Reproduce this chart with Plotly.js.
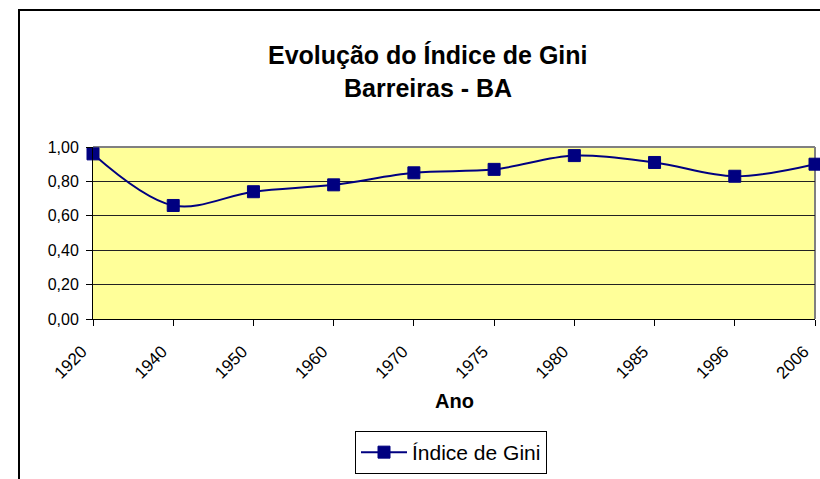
<!DOCTYPE html>
<html>
<head>
<meta charset="utf-8">
<script src="https://cdn.plot.ly/plotly-3.0.1.min.js"></script>
<style>html,body{margin:0;padding:0;background:#fff;}#chart{width:820px;height:479px;}</style>
</head>
<body>
<div id="chart"></div>
<script>
const years = ["1920","1940","1950","1960","1970","1975","1980","1985","1996","2006"];
const gini = [0.96, 0.66, 0.74, 0.78, 0.85, 0.87, 0.95, 0.91, 0.83, 0.90];
const seriesName = "Índice de Gini";
const titleLine1 = "Evolução do Índice de Gini";
const titleLine2 = "Barreiras - BA";
const xTitle = "Ano";
const yTicks = [0, 0.2, 0.4, 0.6, 0.8, 1.0];

const FONT = "Arial, 'Liberation Sans', sans-serif";
const navy = "#000080";

const trace = {
  type: "scatter",
  mode: "lines+markers",
  x: years,
  y: gini,
  name: seriesName,
  cliponaxis: false,
  line: {color: navy, width: 2, shape: "spline", smoothing: 1},
  marker: {symbol: "square", size: 12, color: navy, line: {color: navy, width: 1}}
};

function px2py(Y){ return (319 - Y) / 172; }
function px2px(X){ return (X - 93) / 722; }

const layout = {
  width: 820, height: 479,
  margin: {l: 93, r: 5, t: 147, b: 160, pad: 0},
  paper_bgcolor: "#ffffff",
  plot_bgcolor: "#FFFF99",
  separators: ",.",
  font: {family: FONT, color: "#000", size: 16},
  showlegend: true,
  legend: {
    x: px2px(355), y: px2py(431), xanchor: "left", yanchor: "top",
    bordercolor: "#000", borderwidth: 1, bgcolor: "#fff",
    font: {family: FONT, size: 21, color: "#000"},
    itemwidth: 46
  },
  xaxis: {
    type: "category",
    range: [0, years.length - 1],
    showgrid: false,
    showline: true, linecolor: "#000", linewidth: 1,
    ticks: "outside", ticklen: 6, tickcolor: "#000", tickwidth: 1,
    tickangle: -45,
    ticklabelshift: -11,
    ticklabelstandoff: 9,
    tickfont: {family: FONT, size: 17, color: "#000"},
    zeroline: false, fixedrange: true
  },
  yaxis: {
    range: [0, 1],
    tickvals: yTicks,
    tickformat: ".2f",
    ticklabelstandoff: 4,
    showgrid: true, gridcolor: "#222", gridwidth: 1,
    showline: true, linecolor: "#000", linewidth: 1,
    ticks: "outside", ticklen: 6, tickcolor: "#000", tickwidth: 1,
    tickfont: {family: FONT, size: 16, color: "#000"},
    zeroline: false, fixedrange: true
  },
  shapes: [
    {type: "line", xref: "paper", yref: "paper", x0: 0, x1: 1, y0: 1, y1: 1,
     line: {color: "#808080", width: 2}, layer: "between"},
    {type: "line", xref: "paper", yref: "paper", x0: 1, x1: 1, y0: 0, y1: 1,
     line: {color: "#808080", width: 2}, layer: "between"},
    {type: "rect", xref: "paper", yref: "paper",
     x0: px2px(19), x1: px2px(845), y0: px2py(495), y1: px2py(10),
     line: {color: "#000", width: 2}, fillcolor: "rgba(0,0,0,0)", layer: "below"}
  ],
  annotations: [
    {text: "<b>" + titleLine1 + "</b>", xref: "paper", yref: "paper",
     x: px2px(428), y: px2py(55), xanchor: "center", yanchor: "middle",
     showarrow: false, font: {family: FONT, size: 25, color: "#000"}},
    {text: "<b>" + titleLine2 + "</b>", xref: "paper", yref: "paper",
     x: px2px(428), y: px2py(88), xanchor: "center", yanchor: "middle",
     showarrow: false, font: {family: FONT, size: 25, color: "#000"}},
    {text: "<b>" + xTitle + "</b>", xref: "paper", yref: "paper",
     x: px2px(454), y: px2py(401), xanchor: "center", yanchor: "middle",
     showarrow: false, font: {family: FONT, size: 20, color: "#000"}}
  ]
};

Plotly.newPlot("chart", [trace], layout, {staticPlot: true, displayModeBar: false});
</script>
</body>
</html>
